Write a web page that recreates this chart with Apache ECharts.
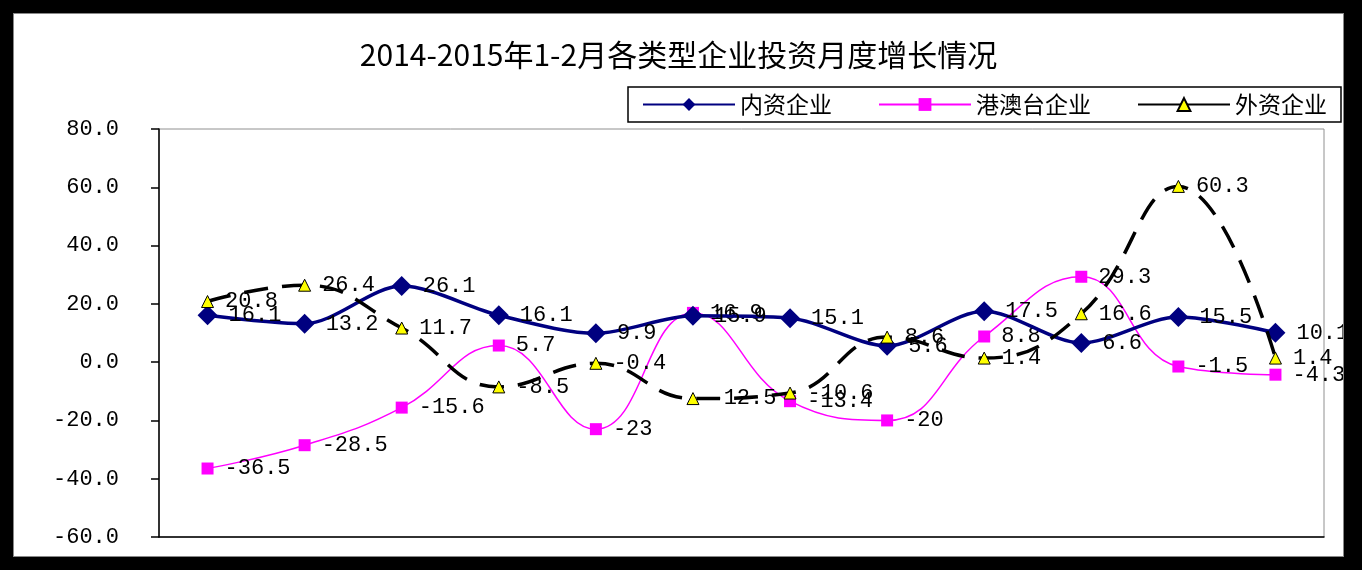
<!DOCTYPE html>
<html>
<head>
<meta charset="utf-8">
<title>2014-2015年1-2月各类型企业投资月度增长情况</title>
<script src="https://cdn.jsdelivr.net/npm/echarts@6/dist/echarts.min.js"></script>
<style>
  html, body { margin: 0; padding: 0; background: #000; width: 1362px; height: 570px; overflow: hidden; }
  #chart { position: absolute; left: 13px; top: 13px; width: 1331px; height: 544px; background: #fff; box-sizing: border-box; border: 1px solid #888; }
</style>
</head>
<body>
<div id="chart"></div>
<script>
// Periods (cumulative Jan–Feb .. Jan–Dec 2014, then Jan–Feb 2015)
const categories = ['2014年1-2月', '1-3月', '1-4月', '1-5月', '1-6月', '1-7月', '1-8月', '1-9月', '1-10月', '1-11月', '1-12月', '2015年1-2月'];
const seriesNames = ['内资企业', '港澳台企业', '外资企业'];

// Growth rates (%)
const domestic = [16.1, 13.2, 26.1, 16.1, 9.9, 15.9, 15.1, 5.6, 17.5, 6.6, 15.5, 10.1];
const hkMacauTaiwan = [-36.5, -28.5, -15.6, 5.7, -23, 16.9, -13.4, -20, 8.8, 29.3, -1.5, -4.3];
const foreign = [20.8, 26.4, 11.7, -8.5, -0.4, -12.5, -10.6, 8.6, 1.4, 16.6, 60.3, 1.4];

// Y axis range
const yMin = -60, yMax = 80, yStep = 20;

const monoFont = '"Liberation Mono", "DejaVu Sans Mono", monospace';
const cjkFont = '"Noto Sans CJK SC", "Noto Sans", sans-serif';

const labelStyle = {
  show: true,
  position: 'right',
  distance: 11,
  color: '#000',
  fontFamily: monoFont,
  fontSize: 22,
  formatter: p => String(p.value)
};

const chart = echarts.init(document.getElementById('chart'), null, { renderer: 'canvas' });

chart.setOption({
  animation: false,
  backgroundColor: '#fff',
  title: {
    text: '2014-2015年1-2月各类型企业投资月度增长情况',
    left: 'center',
    top: 21,
    textStyle: { fontFamily: cjkFont, fontSize: 30, fontWeight: 'normal', color: '#000' }
  },
  legend: {
    data: [
      { name: seriesNames[0] },
      { name: seriesNames[1] },
      { name: seriesNames[2], lineStyle: { type: 'solid' } }
    ],
    left: 614,
    top: 73,
    orient: 'horizontal',
    padding: [6, 14],
    itemGap: 46,
    itemWidth: 92,
    itemHeight: 16,
    borderColor: '#000',
    borderWidth: 1.5,
    textStyle: { fontFamily: cjkFont, fontSize: 23, color: '#000' }
  },
  grid: {
    left: 145,
    top: 115,
    right: 19,
    bottom: 19,
    show: true,
    borderColor: '#909090',
    borderWidth: 1,
    containLabel: false
  },
  xAxis: {
    type: 'category',
    data: categories,
    boundaryGap: true,
    position: 'bottom',
    axisLine: { show: true, onZero: false, lineStyle: { color: '#000', width: 1.5 } },
    axisTick: { show: false },
    axisLabel: { show: false },
    splitLine: { show: false }
  },
  yAxis: {
    type: 'value',
    min: yMin,
    max: yMax,
    interval: yStep,
    axisLine: { show: true, lineStyle: { color: '#000', width: 1.5 } },
    axisTick: { show: true, inside: false, length: 8, lineStyle: { color: '#000', width: 1.5 } },
    axisLabel: {
      margin: 40,
      color: '#000',
      fontFamily: monoFont,
      fontSize: 22,
      formatter: v => v.toFixed(1)
    },
    splitLine: { show: false }
  },
  series: [
    {
      name: seriesNames[0],
      type: 'line',
      data: domestic,
      smooth: 0.3,
      symbol: 'diamond',
      symbolSize: [20, 20],
      itemStyle: { color: '#000080' },
      lineStyle: { color: '#000080', width: 3.5 },
      label: labelStyle,
      z: 4
    },
    {
      name: seriesNames[1],
      type: 'line',
      data: hkMacauTaiwan,
      smooth: 0.45,
      symbol: 'rect',
      symbolSize: 12,
      itemStyle: { color: '#ff00ff' },
      lineStyle: { color: '#ff00ff', width: 1.5 },
      label: labelStyle,
      z: 3
    },
    {
      name: seriesNames[2],
      type: 'line',
      data: foreign,
      smooth: 0.45,
      symbol: 'triangle',
      symbolSize: 12,
      itemStyle: { color: '#ffff00', borderColor: '#000', borderWidth: 1 },
      lineStyle: { color: '#000', width: 3.5, type: [24, 14] },
      label: labelStyle,
      z: 5
    }
  ]
});
</script>
</body>
</html>
